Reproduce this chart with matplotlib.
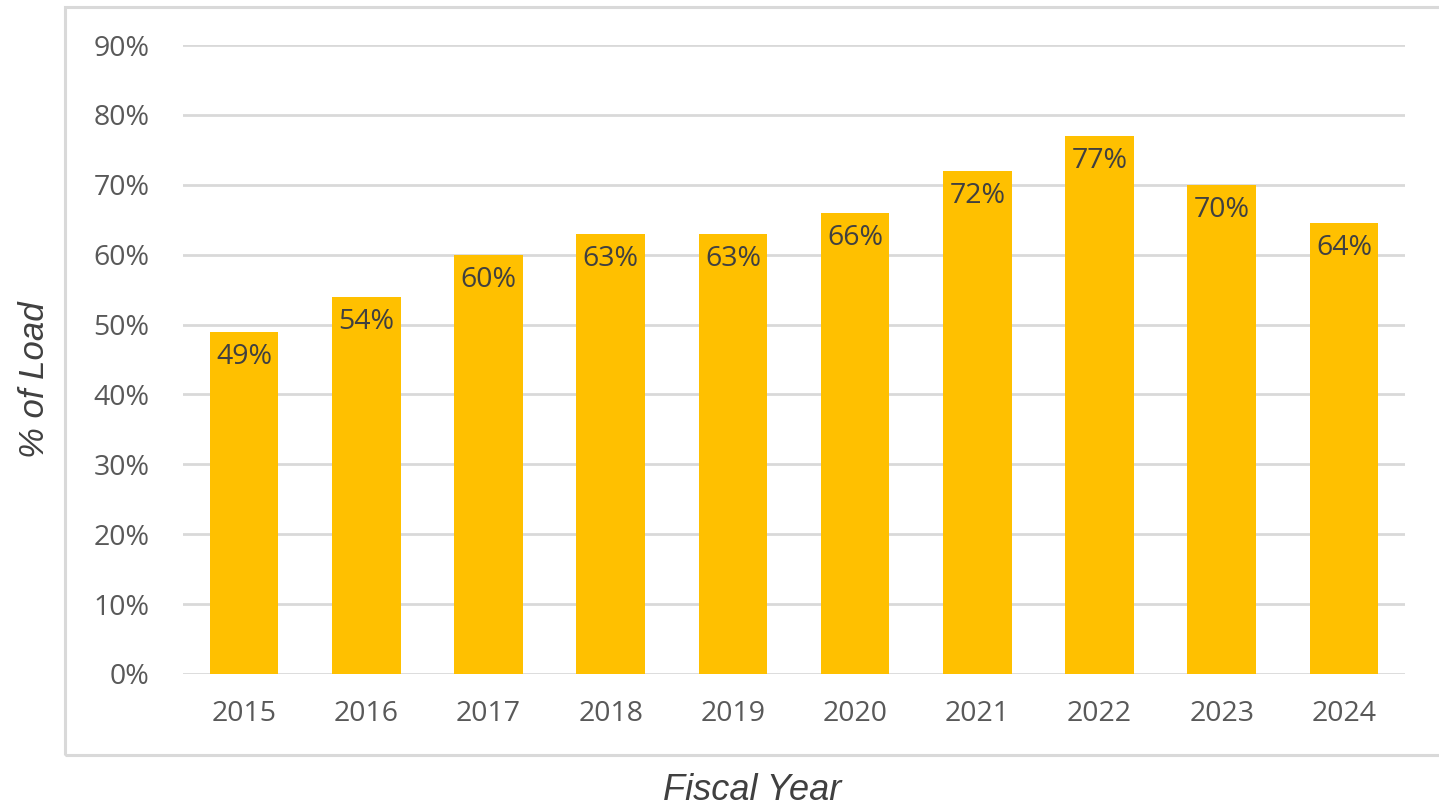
import numpy as np
import matplotlib
matplotlib.use('Agg')
import matplotlib.pyplot as plt
from matplotlib.patches import Rectangle

years = ['2015', '2016', '2017', '2018', '2019', '2020', '2021', '2022', '2023', '2024']
share = [49, 54, 60, 63, 63, 66, 72, 77, 70, 64.5]   # % of load
labels = ['49%', '54%', '60%', '63%', '63%', '66%', '72%', '77%', '70%', '64%']

fig = plt.figure(figsize=(14.39, 8.09), dpi=100)

# light grey chart border (no right edge visible)
W, H = 1439, 809
fig.add_artist(Rectangle((65/W, (H-755)/H), 1.5, (755-7)/H, transform=fig.transFigure,
                         facecolor='none', edgecolor='#d9d9d9', lw=2.2, clip_on=False))

ax = fig.add_axes([183/W, (H-674)/H, (1405-183)/W, (674-45)/H])
x = np.arange(len(years))
ax.bar(x, share, width=0.56, color='#FFC000', zorder=3)

for xi, v, lab in zip(x, share, labels):
    ax.annotate(lab, (xi, v), xytext=(0, -8), textcoords='offset points',
                ha='center', va='top', fontsize=20.5, color='#404040',
                family='Open Sans', zorder=4)

ax.set_xlim(-0.5, len(years) - 0.5)
ax.set_ylim(0, 90)
ax.set_yticks(np.arange(0, 91, 10))
ax.set_yticklabels([f'{t}%' for t in range(0, 91, 10)])
ax.set_xticks(x)
ax.set_xticklabels(years)
ax.yaxis.grid(True, color='#d9d9d9', lw=2, zorder=0)
ax.tick_params(length=0, colors='#595959', labelsize=20.5)
ax.tick_params(axis='y', pad=24)
ax.tick_params(axis='x', pad=19)
for lab in ax.get_xticklabels() + ax.get_yticklabels():
    lab.set_family('Open Sans')
for s in ax.spines.values():
    s.set_visible(False)

fig.text(35/W, (H-380)/H, '% of Load', rotation=90, ha='center', va='center',
         fontsize=25, style='italic', family='Liberation Sans', color='#404040')
fig.text(752/W, (H-790)/H, 'Fiscal Year', ha='center', va='center',
         fontsize=26, style='italic', family='Liberation Sans', color='#404040')

fig.savefig('out.png', dpi=100)
